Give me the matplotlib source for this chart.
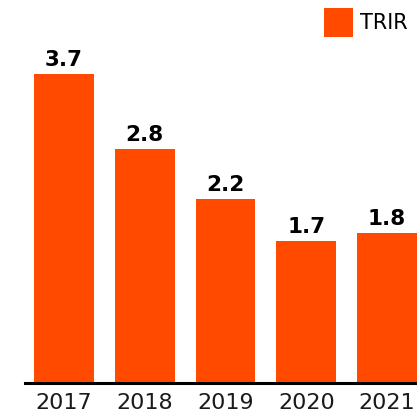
import matplotlib.pyplot as plt
from matplotlib.patches import Patch

# TRIR per year
years = ['2017', '2018', '2019', '2020', '2021']
trir = [3.7, 2.8, 2.2, 1.7, 1.8]
bar_color = '#FF4A00'

fig = plt.figure(figsize=(4.17, 4.15), dpi=100)
ax = fig.add_axes([25 / 417, 32 / 415, 1 - 25 / 417, 383 / 415])

x = range(len(years))
bars = ax.bar(x, trir, width=0.74, color=bar_color)

# value labels above bars
for xi, v in zip(x, trir):
    ax.annotate(f'{v:.1f}', (xi, v), xytext=(0, 3), textcoords='offset points',
                ha='center', va='bottom', fontsize=15.5, fontweight='bold', color='black')

ax.set_xlim(-0.483, 4.37)
ax.set_ylim(0, 4.587)
ax.set_xticks(list(x))
ax.set_xticklabels(years, fontsize=16, color='#1a1a1a')
ax.tick_params(axis='x', length=0, pad=7)
ax.set_yticks([])
for side in ['left', 'right', 'top']:
    ax.spines[side].set_visible(False)
ax.spines['bottom'].set_linewidth(2.2)
ax.spines['bottom'].set_color('black')

handles = [Patch(facecolor=bar_color, label='TRIR')]
fig.legend(handles=handles, loc='upper right', bbox_to_anchor=(408 / 417, 1 - 8 / 415),
           frameon=False, fontsize=15, handlelength=1.4, handleheight=1.78,
           handletextpad=0.35, borderpad=0, borderaxespad=0)

fig.savefig('out.png', dpi=100)
